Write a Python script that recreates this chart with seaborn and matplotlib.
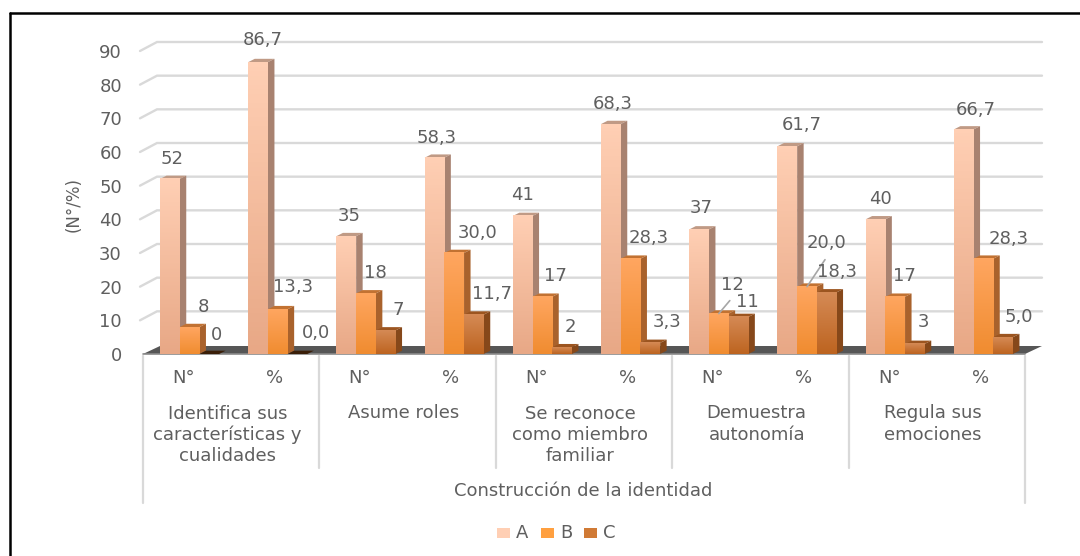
import numpy as np
import pandas as pd
import matplotlib
matplotlib.use("Agg")
import matplotlib.pyplot as plt
import seaborn as sns
from matplotlib.colors import LinearSegmentedColormap
from matplotlib.patches import Rectangle

# -----------------------------
# Data
# -----------------------------
measures = ["N°", "%"] * 5
groups = ["Identifica sus\ncaracterísticas y\ncualidades", "Asume roles",
          "Se reconoce\ncomo miembro\nfamiliar", "Demuestra\nautonomía",
          "Regula sus\nemociones"]
axis_title = "Construcción de la identidad"
series_a = [52, 86.7, 35, 58.3, 41, 68.3, 37, 61.7, 40, 66.7]
series_b = [8, 13.3, 18, 30.0, 17, 28.3, 12, 20.0, 17, 28.3]
series_c = [0, 0.0, 7, 11.7, 2, 3.3, 11, 18.3, 3, 5.0]
yticks = list(range(0, 100, 10))

names = ["A", "B", "C"]
face_top = {"A": "#FFCFB4", "B": "#FFA660", "C": "#D58A55"}
face_bot = {"A": "#E8A886", "B": "#F08C30", "C": "#BD6420"}
side_col = {"A": "#A88270", "B": "#A9622C", "C": "#86481A"}
lid_col = {"A": "#C09A85", "B": "#C27232", "C": "#9C5520"}

# where each data label sits, in pixels of the picture
label_x = {"A": [172, 263, 349, 437, 523, 613, 701, 802, 880, 976],
           "B": [203, 293, 375, 478, 555, 649, 732, 826, 904, 1009],
           "C": [217, 316, 398, 492, 570, 667, 747, 837, 923, 1019]}
label_y = {"A": [159, 40, 216, 138, 195, 104, 208, 125, 199, 110],
           "B": [307, 287, 273, 233, 276, 238, 285, 243, 276, 239],
           "C": [335, 333, 310, 294, 327, 322, 302, 272, 322, 317]}

df = pd.DataFrame({
    "pos": list(range(10)) * 3,
    "serie": ["A"] * 10 + ["B"] * 10 + ["C"] * 10,
    "valor": series_a + series_b + series_c,
})

# -----------------------------
# Figure (pixel layout of the original)
# -----------------------------
W, H = 1080, 556
sns.set_theme(style="white")
plt.rcParams["font.family"] = ["DejaVu Sans"]
txt = "#5F5F5F"
fs = 13

fig = plt.figure(figsize=(W / 100, H / 100), dpi=100)
ax = fig.add_axes([145.5 / W, 1 - 354 / H, 882 / W, 303 / H])

sns.barplot(data=df, x="pos", y="valor", hue="serie", palette=face_top,
            width=0.67, gap=0, saturation=1, legend=False, linewidth=0, ax=ax)

sx = 88.2  # px per category
sy = 303 / 90  # px per unit
left = -0.5 - 2.5 / sx
right = 9.5 - 2.5 / sx


def px2d(dx, dy):
    return dx / sx, dy / sy


# -----------------------------
# Wall and floor
# -----------------------------
wx, wy = px2d(17, 9)
fx, fy = px2d(17, 8)
for t in yticks[1:]:
    ax.plot([left - 3 / sx, left + wx - 3 / sx, right + wx], [t, t + wy, t + wy], color="#D9D9D9",
            lw=1.7, clip_on=False, zorder=0.5, solid_joinstyle="miter")
ax.fill([left, right, right + fx, left + fx], [0, 0, fy, fy], color="#565656",
        clip_on=False, zorder=1, lw=0)
ax.plot([left, right], [0, 0], color="#8A8A8A", lw=1.2, clip_on=False, zorder=1.2)

# -----------------------------
# 3D bars
# -----------------------------
dx, dy = px2d(6.5, 3.3)
for k, (name, cont) in enumerate(zip(names, ax.containers)):
    cmap = LinearSegmentedColormap.from_list(name, [face_top[name], face_bot[name]])
    z = 2 + k
    for bar in cont:
        x0, w, h = bar.get_x(), bar.get_width(), bar.get_height()
        bar.set_zorder(z + 0.1)
        bar.set_clip_on(False)
        lid = lid_col[name] if h > 0 else "#3A1E08"
        ax.fill([x0, x0 + w, x0 + w + dx, x0 + dx], [h, h, h + dy, h + dy], color=lid,
                lw=0, clip_on=False, zorder=z)
        ax.fill([x0 + w, x0 + w + dx, x0 + w + dx, x0 + w], [0, dy, h + dy, h],
                color=side_col[name], lw=0, clip_on=False, zorder=z)
        if h > 0:
            ax.imshow(np.linspace(0, 1, 64).reshape(-1, 1), cmap=cmap, aspect="auto",
                      extent=[x0, x0 + w, 0, h], origin="upper", zorder=z + 0.2)
ax.set_xlim(-0.5, 9.5)
ax.set_ylim(0, 90)


def ftext(x, y, s, **kw):
    fig.text(x / W, 1 - y / H, s, ha="center", va="center", color=txt, fontsize=fs, **kw)


# -----------------------------
# Data labels
# -----------------------------
for name, cont in zip(names, ax.containers):
    for i, bar in enumerate(cont):
        val = bar.get_height()
        label = f"{val:.1f}".replace(".", ",") if i % 2 else f"{val:.0f}"
        ftext(label_x[name][i], label_y[name][i], label, zorder=10)

# leader lines for the two crowded labels
for i, (lx, ly) in {6: (11, 13), 7: (18, 27)}.items():
    bar = ax.containers[1][i]
    xm, val = bar.get_x() + bar.get_width() / 2, bar.get_height()
    ax.plot([xm, xm + lx / sx], [val, val + ly / sy], color="#A6A6A6", lw=1.2, zorder=9,
            clip_on=False)

# -----------------------------
# Axes text
# -----------------------------
sns.despine(ax=ax, left=True, bottom=True)
ax.set_xlabel("")
ax.set_ylabel("(N°/%)", fontsize=12, color=txt)
ax.yaxis.set_label_coords((83 - 145.5) / 882, (354 - 205) / 303)
ax.set_yticks(yticks)
ax.set_yticklabels([str(t) for t in yticks], fontsize=fs, color=txt)
ax.tick_params(axis="y", length=0, pad=17)
ax.set_xticks([])

# multi-level category axis
sep = "#D9D9D9"
for j in range(6):
    x = 143 + j * 176.4
    y1 = 503 if j in (0, 5) else 468
    fig.add_artist(plt.Line2D([x / W, x / W], [1 - 356 / H, 1 - y1 / H], color=sep, lw=1.6))
for i, m in enumerate(measures):
    ftext((183.5 if i % 2 == 0 else 186.3) + i * 88.2, 378, m)
for j, g in enumerate(groups):
    ftext(227.5 + j * 176.4, 413 + 11 * g.count("\n"), g, linespacing=1.22)
ftext(583, 491, axis_title)

# legend
for name, lx, c in zip(names, [497, 541, 584], ["#FFCFB4", "#FFA040", "#D07A35"]):
    fig.add_artist(Rectangle((lx / W, 1 - 538 / H), 13 / W, 10 / H, color=c, lw=0,
                             transform=fig.transFigure))
    ftext(lx + 25, 533, name)

# outer frame
for xs, ys in [([10, 10], [13, 556]), ([10, 1080], [13, 13])]:
    fig.add_artist(plt.Line2D([v / W for v in xs], [1 - v / H for v in ys], color="black", lw=1.8))

fig.savefig("out.png", dpi=100)
